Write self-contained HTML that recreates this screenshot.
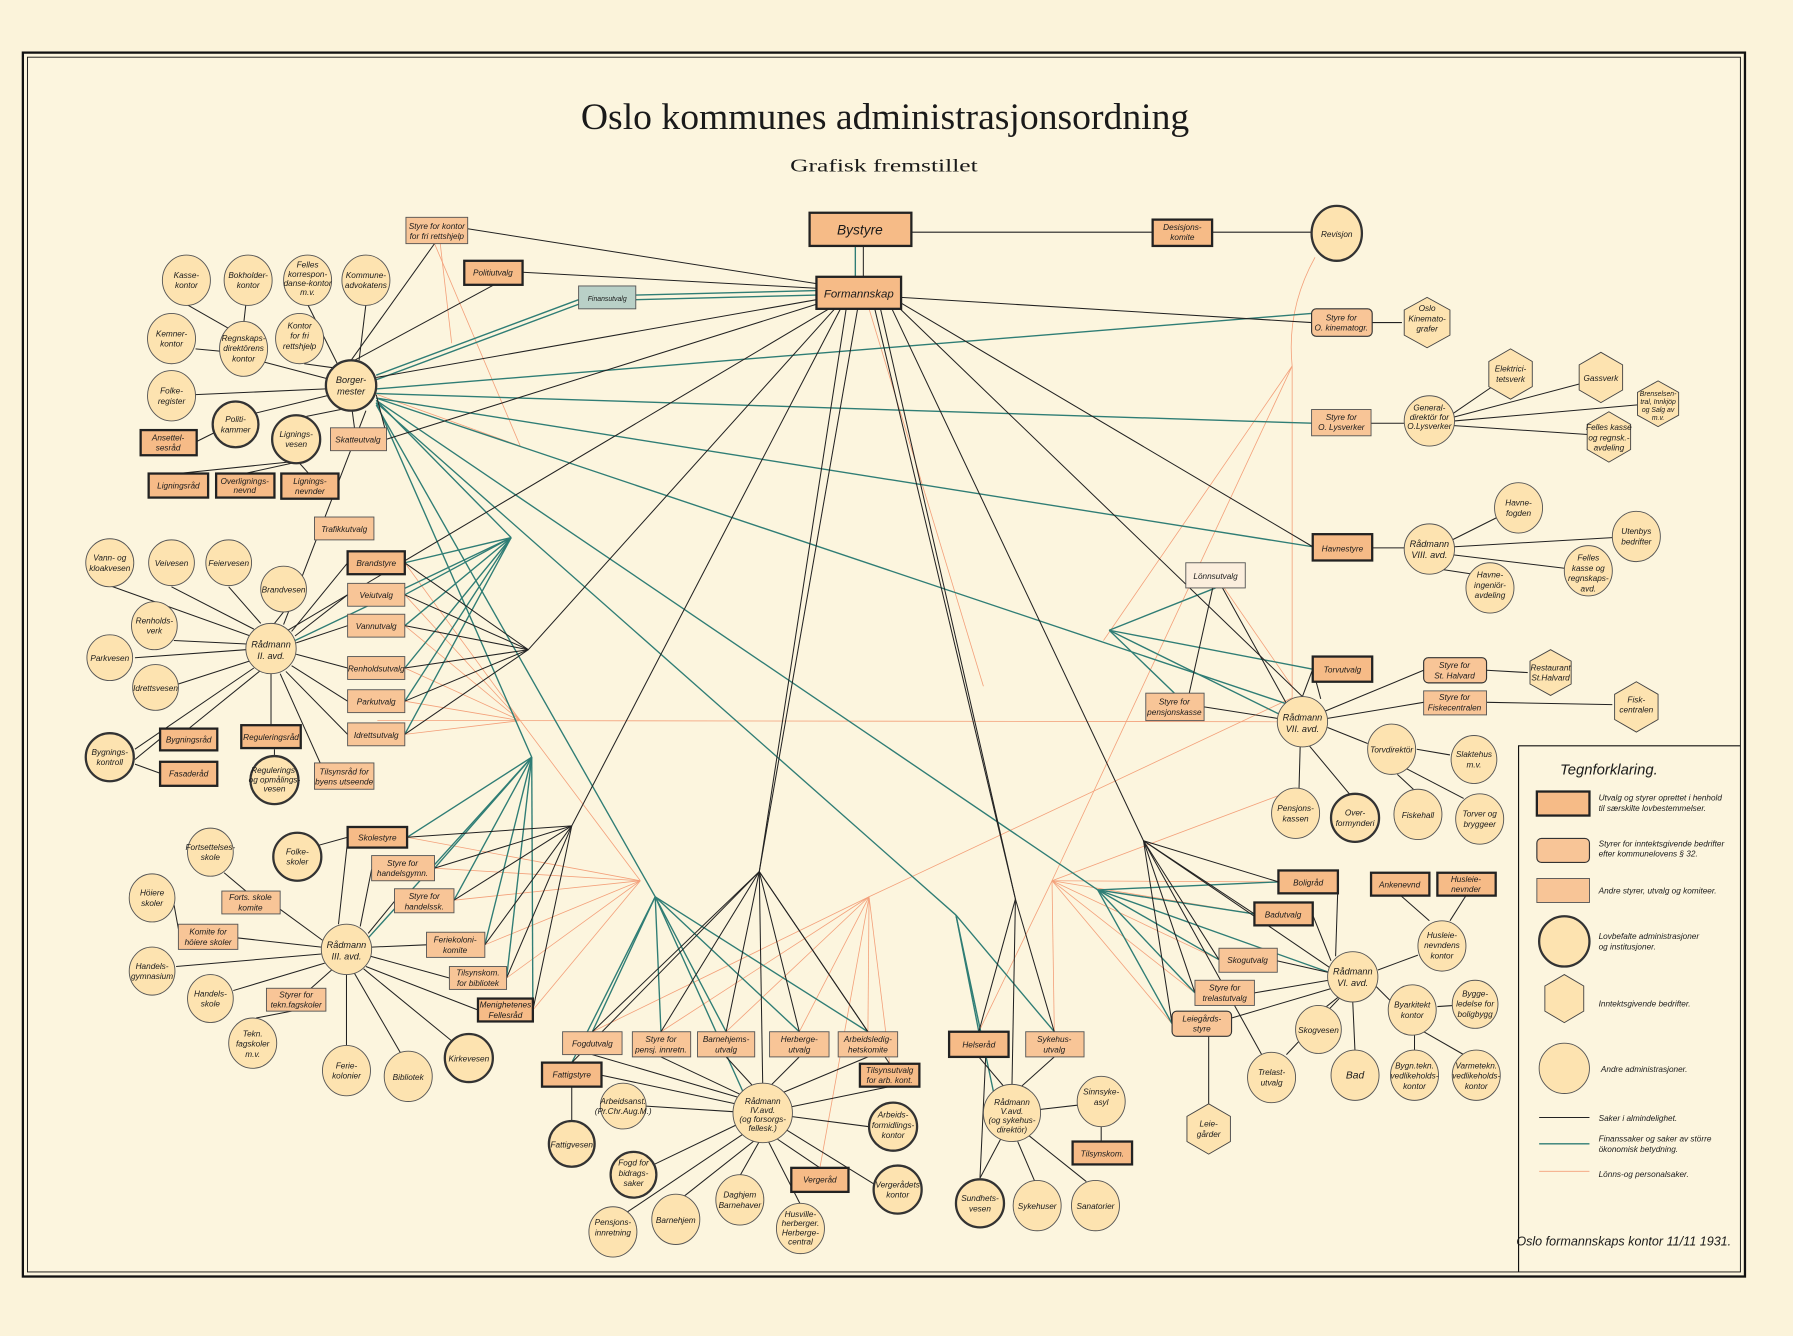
<!DOCTYPE html>
<html><head><meta charset="utf-8"><style>
html,body{margin:0;padding:0;background:#fbf3da;}
svg{display:block}
text{font-family:"Liberation Sans",sans-serif;font-style:italic;font-size:7.2px;fill:#1a1a1a;text-anchor:middle}
.L{fill:#f6bb87;stroke:#222;stroke-width:2}
.O{fill:#f8c597;stroke:#555;stroke-width:.8}
.I{fill:#f8c597;stroke:#333;stroke-width:1}
.c{fill:#fde3b0;stroke:#555;stroke-width:.8}
.ct{fill:#fde3b0;stroke:#333;stroke-width:2}
.h{fill:#fde3b0;stroke:#444;stroke-width:.8}
.k{stroke:#222;stroke-width:.9;fill:none}
.t{stroke:#2f7d75;stroke-width:1.2;fill:none}
.o{stroke:#f3a07a;stroke-width:.7;fill:none}
</style></head><body>
<svg width="1793" height="1336" viewBox="0 0 1568 1168" preserveAspectRatio="none" xmlns="http://www.w3.org/2000/svg">
<rect x="0" y="0" width="1568" height="1168" fill="#fbf3da"/>
<rect x="20" y="46" width="1506" height="1070" fill="#fcf5de" stroke="#111" stroke-width="2"/>
<rect x="24" y="50" width="1498" height="1062" fill="none" stroke="#111" stroke-width=".8"/>
<text x="774" y="113" style="font-family:'Liberation Serif',serif;font-style:normal;font-size:32px" textLength="532" lengthAdjust="spacingAndGlyphs">Oslo kommunes administrasjonsordning</text>
<text x="773" y="150" style="font-family:'Liberation Serif',serif;font-style:normal;font-size:16px" textLength="164" lengthAdjust="spacingAndGlyphs">Grafisk fremstillet</text>

<!-- legend -->
<path d="M1328 1112 V652 H1522" fill="none" stroke="#111" stroke-width="1"/>
<text x="1407" y="677" style="font-size:13px">Tegnforklaring.</text>
<rect x="1344" y="692" width="46" height="21" class="L"/>
<rect x="1344" y="733" width="46" height="21" rx="4" class="I"/>
<rect x="1344" y="768" width="46" height="21" class="O"/>
<circle cx="1368" cy="823" r="22" class="ct"/>
<polygon points="1368,852 1385,862 1385,884 1368,894 1351,884 1351,862" class="h"/>
<circle cx="1368" cy="934" r="22" class="c"/>
<line x1="1346" y1="977" x2="1390" y2="977" class="k"/>
<line x1="1346" y1="1000" x2="1390" y2="1000" class="t"/>
<line x1="1346" y1="1024" x2="1390" y2="1024" class="o"/>
<g style="text-anchor:start;font-size:7px">
<text x="1398" y="700" style="text-anchor:start">Utvalg og styrer oprettet i henhold</text>
<text x="1398" y="709" style="text-anchor:start">til særskilte lovbestemmelser.</text>
<text x="1398" y="740" style="text-anchor:start">Styrer for inntektsgivende bedrifter</text>
<text x="1398" y="749" style="text-anchor:start">efter kommunelovens § 32.</text>
<text x="1398" y="781" style="text-anchor:start">Andre styrer, utvalg og komiteer.</text>
<text x="1398" y="821" style="text-anchor:start">Lovbefalte administrasjoner</text>
<text x="1398" y="830" style="text-anchor:start">og institusjoner.</text>
<text x="1398" y="880" style="text-anchor:start">Inntektsgivende bedrifter.</text>
<text x="1400" y="937" style="text-anchor:start">Andre administrasjoner.</text>
<text x="1398" y="980" style="text-anchor:start">Saker i almindelighet.</text>
<text x="1398" y="998" style="text-anchor:start">Finanssaker og saker av större</text>
<text x="1398" y="1007" style="text-anchor:start">ökonomisk betydning.</text>
<text x="1398" y="1029" style="text-anchor:start">Lönns-og personalsaker.</text>
</g>
<text x="1420" y="1089" style="font-size:11px">Oslo formannskaps kontor 11/11 1931.</text>

<!-- ORANGE lines -->
<g class="o">
<path d="M380 213 L455 390"/><path d="M385 213 L395 300"/><path d="M330 345 L455 390"/>
<path d="M760 270 L860 600"/><path d="M1150 225 Q1125 270 1130 320 V640"/>
<path d="M1130 320 L965 560"/><path d="M1130 320 L920 770"/><path d="M1130 610 L760 784"/>
<path d="M455 630 L330 630"/><path d="M455 630 L1120 631"/>
<path d="M455 630 L354 492"/><path d="M455 630 L354 520"/><path d="M455 630 L354 547"/><path d="M455 630 L354 584"/><path d="M455 630 L354 613"/><path d="M455 630 L354 642"/>
<path d="M560 770 L380 759"/><path d="M560 770 L397 787"/><path d="M560 770 L424 826"/><path d="M560 770 L443 855"/><path d="M560 770 L466 883"/><path d="M560 770 L356 732"/><path d="M560 770 L455 630"/>
<path d="M760 784 L518 902"/><path d="M760 784 L578 902"/><path d="M760 784 L635 902"/><path d="M760 784 L699 902"/><path d="M760 784 L759 902"/><path d="M760 784 L778 930"/><path d="M760 784 L717 1021"/>
<path d="M920 770 L1118 771"/><path d="M920 770 L1097 799"/><path d="M920 770 L1066 839"/><path d="M920 770 L1045 868"/><path d="M920 770 L1025 895"/><path d="M920 770 L856 902"/><path d="M920 770 L922 902"/><path d="M920 770 L1133 690"/>
<path d="M1130 600 L1063 503"/>
</g>

<!-- TEAL lines -->
<g class="t">
<path d="M748 215 V242"/>
<path d="M556 258 L714 254"/><path d="M556 262 L714 258"/>
<path d="M329 328 L506 262"/><path d="M329 332 L506 266"/>
<path d="M329 340 L1147 274"/><path d="M329 344 L1147 370"/><path d="M329 348 L1148 478"/>
<path d="M329 350 L447 470"/><path d="M329 352 L465 662"/><path d="M329 354 L573 784"/><path d="M329 352 L836 800"/><path d="M329 350 L960 778"/><path d="M329 348 L1139 620"/>
<path d="M447 470 L354 492"/><path d="M447 470 L354 520"/><path d="M447 470 L354 547"/><path d="M447 470 L354 584"/><path d="M447 470 L354 613"/><path d="M447 470 L354 642"/><path d="M447 470 L258 560"/>
<path d="M465 662 L356 732"/><path d="M465 662 L380 759"/><path d="M465 662 L397 787"/><path d="M465 662 L424 826"/><path d="M465 662 L443 855"/><path d="M465 662 L466 883"/><path d="M465 662 L322 820"/>
<path d="M573 784 L518 902"/><path d="M573 784 L578 902"/><path d="M573 784 L635 902"/><path d="M573 784 L699 902"/><path d="M573 784 L759 902"/><path d="M573 784 L500 929"/><path d="M573 784 L650 955"/>
<path d="M836 800 L856 902"/><path d="M836 800 L922 902"/><path d="M836 800 L870 960"/>
<path d="M960 778 L1118 771"/><path d="M960 778 L1097 799"/><path d="M960 778 L1066 839"/><path d="M960 778 L1045 868"/><path d="M960 778 L1025 895"/><path d="M960 778 L1162 850"/>
<path d="M970 551 L1148 585"/><path d="M970 551 L1027 606"/><path d="M970 551 L1063 514"/><path d="M970 551 L1120 625"/>
</g>

<!-- BLACK lines -->
<g class="k">
<path d="M755 215 V242"/>
<path d="M797 203 H1008"/><path d="M1060 203 H1147"/>
<path d="M714 248 L409 200"/><path d="M714 252 L457 238"/><path d="M714 262 L329 330"/><path d="M714 266 L338 384"/>
<path d="M725 270 L250 552"/><path d="M730 270 L462 568"/><path d="M735 270 L500 722"/><path d="M740 270 L664 762"/><path d="M750 270 L664 762"/>
<path d="M765 270 L888 786"/><path d="M770 270 L888 786"/><path d="M780 270 L1000 735"/><path d="M785 268 L1139 609"/><path d="M788 265 L1148 478"/><path d="M788 260 L1147 282"/>
<path d="M1200 282 H1226"/><path d="M1199 370 H1228"/><path d="M1270 362 L1305 338"/><path d="M1270 365 L1384 335"/><path d="M1272 368 L1432 354"/><path d="M1270 372 L1390 380"/>
<path d="M1200 479 H1228"/><path d="M1270 472 L1310 452"/><path d="M1272 478 L1410 470"/><path d="M1270 485 L1370 497"/><path d="M1262 498 L1295 503"/>
<!-- borgermester -->
<path d="M307 315 L380 213"/><path d="M310 315 L432 249"/><path d="M229 316 L286 331"/><path d="M269 266 L295 318"/><path d="M320 266 L314 315"/><path d="M266 318 L295 322"/>
<path d="M163 266 L205 290"/><path d="M215 266 L213 284"/><path d="M171 305 L192 307"/><path d="M171 345 L285 340"/><path d="M220 362 L290 345"/><path d="M268 364 L298 358"/><path d="M310 374 L308 359"/>
<path d="M172 386 L188 378"/><path d="M252 404 L156 414"/><path d="M255 405 L214 414"/><path d="M262 405 L270 414"/><path d="M338 380 L329 345"/>
<path d="M320 359 L248 546"/>
<!-- radmann II -->
<path d="M96 512 L219 556"/><path d="M150 513 L222 550"/><path d="M200 513 L228 545"/><path d="M248 535 L240 545"/><path d="M152 560 L216 563"/><path d="M118 575 L215 568"/><path d="M156 598 L218 578"/><path d="M118 655 L222 584"/>
<path d="M304 492 L255 552"/><path d="M304 520 L258 556"/><path d="M304 547 L259 562"/><path d="M304 584 L259 572"/><path d="M304 613 L255 582"/><path d="M304 642 L250 587"/>
<path d="M165 637 L228 586"/><path d="M237 634 L237 589"/><path d="M240 660 L240 655"/><path d="M280 667 L245 589"/><path d="M118 664 L140 646"/><path d="M118 668 L140 676"/>
<path d="M462 568 L354 492"/><path d="M462 568 L354 520"/><path d="M462 568 L354 547"/><path d="M462 568 L354 584"/><path d="M462 568 L354 613"/><path d="M462 568 L354 642"/>
<!-- radmann III -->
<path d="M304 732 L275 740"/><path d="M304 735 L296 808"/><path d="M325 760 L315 810"/><path d="M345 788 L322 816"/><path d="M373 826 L325 828"/><path d="M393 855 L324 836"/><path d="M418 883 L320 845"/>
<path d="M500 722 L356 732"/><path d="M500 722 L380 759"/><path d="M500 722 L397 787"/><path d="M500 722 L424 826"/><path d="M500 722 L443 855"/><path d="M500 722 L466 883"/>
<path d="M196 763 L215 779"/><path d="M245 795 L282 822"/><path d="M152 790 L156 812"/><path d="M208 820 L281 828"/><path d="M154 845 L281 834"/><path d="M204 866 L284 842"/><path d="M272 864 L290 848"/><path d="M224 890 L255 884"/><path d="M303 914 L303 852"/><path d="M350 920 L310 851"/><path d="M395 910 L318 847"/>
<!-- radmann IV -->
<path d="M664 762 L518 902"/><path d="M664 762 L578 902"/><path d="M664 762 L635 902"/><path d="M664 762 L699 902"/><path d="M664 762 L759 902"/><path d="M664 762 L500 929"/><path d="M664 762 L778 930"/><path d="M664 762 L667 948"/>
<path d="M518 922 L648 960"/><path d="M578 924 L650 958"/><path d="M635 924 L658 949"/><path d="M699 924 L674 949"/><path d="M759 924 L685 955"/><path d="M526 940 L643 965"/><path d="M778 950 L690 968"/>
<path d="M500 950 L500 980"/><path d="M565 967 L643 972"/><path d="M572 1018 L647 982"/><path d="M548 1060 L652 990"/><path d="M598 1046 L660 997"/><path d="M647 1028 L664 998"/><path d="M700 1053 L672 998"/><path d="M760 985 L691 976"/><path d="M764 1035 L688 988"/><path d="M717 1021 L680 996"/>
<!-- radmann V -->
<path d="M888 786 L856 902"/><path d="M888 786 L922 902"/><path d="M888 786 L885 948"/>
<path d="M856 924 L878 950"/><path d="M922 924 L893 950"/><path d="M944 966 L909 970"/><path d="M963 998 L963 984"/><path d="M857 1030 L875 996"/><path d="M905 1033 L890 998"/><path d="M950 1033 L900 993"/><path d="M862 924 L857 1030"/>
<!-- radmann VI -->
<path d="M1000 735 L1118 771"/><path d="M1000 735 L1097 799"/><path d="M1000 735 L1066 839"/><path d="M1000 735 L1045 868"/><path d="M1000 735 L1025 895"/><path d="M1000 735 L1163 846"/><path d="M1000 735 L1105 925"/>
<path d="M1170 775 L1168 836"/><path d="M1148 800 L1164 840"/><path d="M1117 840 L1161 850"/><path d="M1097 868 L1162 857"/><path d="M1077 890 L1165 864"/>
<path d="M1225 783 L1250 805"/><path d="M1282 783 L1268 805"/><path d="M1240 835 L1205 848"/><path d="M1216 875 L1203 862"/><path d="M1160 880 L1170 872"/><path d="M1185 920 L1183 876"/><path d="M1125 922 L1172 872"/>
<path d="M1257 880 L1272 879"/><path d="M1237 905 L1237 920"/><path d="M1245 902 L1280 922"/><path d="M1057 906 L1057 965"/>
<!-- radmann VII -->
<path d="M1148 585 L1155 611"/><path d="M1053 618 L1117 628"/><path d="M1245 586 L1158 622"/><path d="M1245 614 L1161 628"/><path d="M1300 614 L1410 616"/><path d="M1300 586 L1336 588"/>
<path d="M1161 636 L1196 650"/><path d="M1136 690 L1137 653"/><path d="M1180 694 L1145 652"/><path d="M1239 655 L1268 660"/><path d="M1222 677 L1236 690"/><path d="M1230 672 L1280 698"/>
<path d="M1063 503 L1040 606"/><path d="M1063 503 L1125 615"/>
<path d="M1139 609 L1148 585"/>
</g>

<!-- NODES -->
<g>
<!-- top -->
<rect x="708" y="186" width="89" height="29" class="L"/><text x="752" y="205" style="font-size:12px">Bystyre</text>
<rect x="714" y="242" width="74" height="28" class="L"/><text x="751" y="260" style="font-size:10px">Formannskap</text>
<rect x="1008" y="192" width="52" height="23" class="L"/><text x="1034" y="201">Desisjons-</text><text x="1034" y="210">komite</text>
<ellipse cx="1169" cy="204" rx="22" ry="24" class="ct"/><text x="1169" y="207">Revisjon</text>
<rect x="355" y="190" width="54" height="23" class="O"/><text x="382" y="200">Styre for kontor</text><text x="382" y="209">for fri rettshjelp</text>
<rect x="406" y="228" width="51" height="21" class="L"/><text x="431" y="241">Politiutvalg</text>
<rect x="506" y="250" width="50" height="20" fill="#b9d0c7" stroke="#555" stroke-width=".8"/><text x="531" y="263" style="font-size:6px">Finansutvalg</text>
<rect x="1147" y="270" width="53" height="24" rx="4" class="I"/><text x="1173" y="280">Styre for</text><text x="1173" y="289">O. kinematogr.</text>
<polygon points="1248,260 1268,271 1268,293 1248,304 1228,293 1228,271" class="h"/><text x="1248" y="272">Oslo</text><text x="1248" y="281">Kinemato-</text><text x="1248" y="290">grafer</text>
<polygon points="1321,305 1340,316 1340,338 1321,349 1302,338 1302,316" class="h"/><text x="1321" y="325">Elektrici-</text><text x="1321" y="334">tetsverk</text>
<polygon points="1400,308 1419,319 1419,341 1400,352 1381,341 1381,319" class="h"/><text x="1400" y="333">Gassverk</text>
<polygon points="1450,333 1468,343 1468,363 1450,373 1432,363 1432,343" class="h"/><text x="1450" y="346" style="font-size:6px">Brenselsen-</text><text x="1450" y="353" style="font-size:6px">tral, Innkjöp</text><text x="1450" y="360" style="font-size:6px">og Salg av</text><text x="1450" y="367" style="font-size:6px">m.v.</text>
<polygon points="1407,360 1426,371 1426,393 1407,404 1388,393 1388,371" class="h"/><text x="1407" y="376">Felles kasse</text><text x="1407" y="385">og regnsk.-</text><text x="1407" y="394">avdeling</text>
<rect x="1147" y="358" width="52" height="23" class="O"/><text x="1173" y="367">Styre for</text><text x="1173" y="376">O. Lysverker</text>
<circle cx="1250" cy="368" r="22" class="c"/><text x="1250" y="359">General-</text><text x="1250" y="367">direktör for</text><text x="1250" y="375">O.Lysverker</text>

<!-- Borgermester cluster -->
<circle cx="307" cy="337" r="22" class="ct"/><text x="307" y="335" style="font-size:8px">Borger-</text><text x="307" y="345" style="font-size:8px">mester</text>
<ellipse cx="163" cy="245" rx="21" ry="22" class="c"/><text x="163" y="243">Kasse-</text><text x="163" y="252">kontor</text>
<ellipse cx="217" cy="245" rx="21" ry="22" class="c"/><text x="217" y="243">Bokholder-</text><text x="217" y="252">kontor</text>
<ellipse cx="269" cy="245" rx="21" ry="22" class="c"/><text x="269" y="234">Felles</text><text x="269" y="242">korrespon-</text><text x="269" y="250">danse-kontor</text><text x="269" y="258">m.v.</text>
<ellipse cx="320" cy="245" rx="21" ry="22" class="c"/><text x="320" y="243">Kommune-</text><text x="320" y="252">advokatens</text>
<ellipse cx="150" cy="296" rx="21" ry="22" class="c"/><text x="150" y="294">Kemner-</text><text x="150" y="303">kontor</text>
<ellipse cx="213" cy="305" rx="21" ry="24" class="c"/><text x="213" y="298">Regnskaps-</text><text x="213" y="307">direktörens</text><text x="213" y="316">kontor</text>
<ellipse cx="262" cy="296" rx="21" ry="22" class="c"/><text x="262" y="287">Kontor</text><text x="262" y="296">for fri</text><text x="262" y="305">rettshjelp</text>
<ellipse cx="150" cy="346" rx="21" ry="22" class="c"/><text x="150" y="344">Folke-</text><text x="150" y="353">register</text>
<circle cx="206" cy="371" r="20" class="ct"/><text x="206" y="369">Politi-</text><text x="206" y="378">kammer</text>
<circle cx="259" cy="384" r="21" class="ct"/><text x="259" y="382">Lignings-</text><text x="259" y="391">vesen</text>
<rect x="289" y="374" width="49" height="20" class="O"/><text x="313" y="387">Skatteutvalg</text>
<rect x="123" y="376" width="49" height="22" class="L"/><text x="147" y="385">Ansettel-</text><text x="147" y="394">sesråd</text>
<rect x="130" y="414" width="52" height="21" class="L"/><text x="156" y="427">Ligningsråd</text>
<rect x="189" y="414" width="51" height="21" class="L"/><text x="214" y="423">Overlignings-</text><text x="214" y="431">nevnd</text>
<rect x="246" y="414" width="50" height="22" class="L"/><text x="271" y="423">Lignings-</text><text x="271" y="432">nevnder</text>
<rect x="275" y="452" width="52" height="20" class="O"/><text x="301" y="465">Trafikkutvalg</text>

<!-- Radmann II -->
<circle cx="237" cy="567" r="22" class="c"/><text x="237" y="566" style="font-size:8px">Rådmann</text><text x="237" y="576" style="font-size:8px">II. avd.</text>
<ellipse cx="96" cy="492" rx="21" ry="21" class="c"/><text x="96" y="490">Vann- og</text><text x="96" y="499">kloakvesen</text>
<ellipse cx="150" cy="492" rx="20" ry="20" class="c"/><text x="150" y="495">Veivesen</text>
<ellipse cx="200" cy="492" rx="20" ry="20" class="c"/><text x="200" y="495">Feiervesen</text>
<ellipse cx="248" cy="515" rx="20" ry="20" class="c"/><text x="248" y="518">Brandvesen</text>
<ellipse cx="135" cy="547" rx="20" ry="21" class="c"/><text x="135" y="545">Renholds-</text><text x="135" y="554">verk</text>
<ellipse cx="96" cy="575" rx="20" ry="20" class="c"/><text x="96" y="578">Parkvesen</text>
<ellipse cx="136" cy="601" rx="20" ry="20" class="c"/><text x="136" y="604">Idrettsvesen</text>
<circle cx="96" cy="662" r="21" class="ct"/><text x="96" y="660">Bygnings-</text><text x="96" y="669">kontroll</text>
<rect x="140" y="637" width="50" height="19" class="L"/><text x="165" y="649">Bygningsråd</text>
<rect x="140" y="666" width="50" height="21" class="L"/><text x="165" y="679">Fasaderåd</text>
<rect x="211" y="634" width="52" height="20" class="L"/><text x="237" y="647">Reguleringsråd</text>
<circle cx="240" cy="682" r="21" class="ct"/><text x="240" y="676">Regulerings-</text><text x="240" y="684">og opmålings-</text><text x="240" y="692">vesen</text>
<rect x="275" y="667" width="52" height="23" class="O"/><text x="301" y="677">Tilsynsråd for</text><text x="301" y="686">byens utseende</text>
<rect x="304" y="482" width="50" height="20" class="L"/><text x="329" y="495">Brandstyre</text>
<rect x="304" y="510" width="50" height="20" class="O"/><text x="329" y="523">Veiutvalg</text>
<rect x="304" y="537" width="50" height="20" class="O"/><text x="329" y="550">Vannutvalg</text>
<rect x="304" y="574" width="50" height="20" class="O"/><text x="329" y="587">Renholdsutvalg</text>
<rect x="304" y="603" width="50" height="20" class="O"/><text x="329" y="616">Parkutvalg</text>
<rect x="304" y="632" width="50" height="20" class="O"/><text x="329" y="645">Idrettsutvalg</text>

<!-- Radmann III -->
<circle cx="303" cy="830" r="22" class="c"/><text x="303" y="829" style="font-size:8px">Rådmann</text><text x="303" y="839" style="font-size:8px">III. avd.</text>
<rect x="304" y="723" width="52" height="18" class="L"/><text x="330" y="735">Skolestyre</text>
<rect x="325" y="748" width="55" height="22" class="O"/><text x="352" y="757">Styre for</text><text x="352" y="766">handelsgymn.</text>
<rect x="345" y="777" width="52" height="21" class="O"/><text x="371" y="786">Styre for</text><text x="371" y="795">handelssk.</text>
<rect x="373" y="815" width="51" height="22" class="O"/><text x="398" y="824">Feriekoloni-</text><text x="398" y="833">komite</text>
<rect x="393" y="845" width="50" height="20" class="O"/><text x="418" y="853">Tilsynskom.</text><text x="418" y="862">for bibliotek</text>
<rect x="418" y="873" width="48" height="20" class="L"/><text x="442" y="881">Menighetenes</text><text x="442" y="890">Fellesråd</text>
<circle cx="260" cy="749" r="21" class="ct"/><text x="260" y="747">Folke-</text><text x="260" y="756">skoler</text>
<ellipse cx="184" cy="745" rx="20" ry="21" class="c"/><text x="184" y="743">Fortsettelses-</text><text x="184" y="752">skole</text>
<rect x="194" y="779" width="51" height="20" class="O"/><text x="219" y="787">Forts. skole</text><text x="219" y="796">komite</text>
<ellipse cx="133" cy="785" rx="20" ry="21" class="c"/><text x="133" y="783">Höiere</text><text x="133" y="792">skoler</text>
<rect x="156" y="808" width="52" height="22" class="O"/><text x="182" y="817">Komite for</text><text x="182" y="826">höiere skoler</text>
<ellipse cx="133" cy="849" rx="20" ry="21" class="c"/><text x="133" y="847">Handels-</text><text x="133" y="856">gymnasium</text>
<ellipse cx="184" cy="873" rx="20" ry="21" class="c"/><text x="184" y="871">Handels-</text><text x="184" y="880">skole</text>
<rect x="233" y="864" width="52" height="20" class="O"/><text x="259" y="872">Styrer for</text><text x="259" y="881">tekn.fagskoler</text>
<ellipse cx="221" cy="912" rx="21" ry="22" class="c"/><text x="221" y="906">Tekn.</text><text x="221" y="915">fagskoler</text><text x="221" y="924">m.v.</text>
<ellipse cx="303" cy="936" rx="21" ry="22" class="c"/><text x="303" y="934">Ferie-</text><text x="303" y="943">kolonier</text>
<ellipse cx="357" cy="941" rx="21" ry="22" class="c"/><text x="357" y="944">Bibliotek</text>
<circle cx="410" cy="925" r="21" class="ct"/><text x="410" y="928">Kirkevesen</text>

<!-- Radmann IV -->
<circle cx="667" cy="973" r="26" class="c"/><text x="667" y="965">Rådmann</text><text x="667" y="973">IV.avd.</text><text x="667" y="981">(og forsorgs-</text><text x="667" y="989">fellesk.)</text>
<rect x="492" y="902" width="52" height="20" class="O"/><text x="518" y="915">Fogdutvalg</text>
<rect x="553" y="902" width="51" height="22" class="O"/><text x="578" y="911">Styre for</text><text x="578" y="920">pensj. innretn.</text>
<rect x="610" y="902" width="50" height="22" class="O"/><text x="635" y="911">Barnehjems-</text><text x="635" y="920">utvalg</text>
<rect x="673" y="902" width="52" height="22" class="O"/><text x="699" y="911">Herberge-</text><text x="699" y="920">utvalg</text>
<rect x="733" y="902" width="52" height="22" class="O"/><text x="759" y="911">Arbeidsledig-</text><text x="759" y="920">hetskomite</text>
<rect x="474" y="929" width="52" height="21" class="L"/><text x="500" y="942">Fattigstyre</text>
<rect x="752" y="930" width="52" height="20" class="L"/><text x="778" y="938">Tilsynsutvalg</text><text x="778" y="947">for arb. kont.</text>
<rect x="692" y="1021" width="50" height="21" class="L"/><text x="717" y="1034">Vergeråd</text>
<circle cx="500" cy="1000" r="20" class="ct"/><text x="500" y="1003">Fattigvesen</text>
<ellipse cx="545" cy="967" rx="20" ry="20" class="c"/><text x="545" y="965">Arbeidsanst.</text><text x="545" y="974">(Pr.Chr.Aug.M.)</text>
<circle cx="554" cy="1027" r="20" class="ct"/><text x="554" y="1019">Fogd for</text><text x="554" y="1028">bidrags-</text><text x="554" y="1037">saker</text>
<ellipse cx="536" cy="1077" rx="21" ry="22" class="c"/><text x="536" y="1071">Pensjons-</text><text x="536" y="1080">innretning</text>
<ellipse cx="591" cy="1066" rx="21" ry="22" class="c"/><text x="591" y="1069">Barnehjem</text>
<ellipse cx="647" cy="1049" rx="21" ry="22" class="c"/><text x="647" y="1047">Daghjem</text><text x="647" y="1056">Barnehaver</text>
<ellipse cx="700" cy="1074" rx="21" ry="22" class="c"/><text x="700" y="1064">Husville-</text><text x="700" y="1072">herberger.</text><text x="700" y="1080">Herberge-</text><text x="700" y="1088">central</text>
<circle cx="781" cy="985" r="21" class="ct"/><text x="781" y="977">Arbeids-</text><text x="781" y="986">formidlings-</text><text x="781" y="995">kontor</text>
<circle cx="785" cy="1040" r="21" class="ct"/><text x="785" y="1038">Vergerådets</text><text x="785" y="1047">kontor</text>

<!-- Radmann V -->
<circle cx="885" cy="973" r="25" class="c"/><text x="885" y="966">Rådmann</text><text x="885" y="974">V.avd.</text><text x="885" y="982">(og sykehus-</text><text x="885" y="990">direktör)</text>
<rect x="830" y="902" width="52" height="22" class="L"/><text x="856" y="916">Helseråd</text>
<rect x="897" y="902" width="51" height="22" class="O"/><text x="922" y="911">Sykehus-</text><text x="922" y="920">utvalg</text>
<rect x="938" y="998" width="52" height="20" class="L"/><text x="964" y="1011">Tilsynskom.</text>
<ellipse cx="963" cy="963" rx="21" ry="22" class="c"/><text x="963" y="957">Sinnsyke-</text><text x="963" y="966">asyl</text>
<circle cx="857" cy="1052" r="21" class="ct"/><text x="857" y="1050">Sundhets-</text><text x="857" y="1059">vesen</text>
<ellipse cx="907" cy="1054" rx="21" ry="22" class="c"/><text x="907" y="1057">Sykehuser</text>
<ellipse cx="958" cy="1054" rx="21" ry="22" class="c"/><text x="958" y="1057">Sanatorier</text>

<!-- Radmann VI -->
<circle cx="1183" cy="854" r="22" class="c"/><text x="1183" y="852" style="font-size:8px">Rådmann</text><text x="1183" y="862" style="font-size:8px">VI. avd.</text>
<rect x="1118" y="761" width="52" height="20" class="L"/><text x="1144" y="774">Boligråd</text>
<rect x="1097" y="789" width="51" height="20" class="L"/><text x="1122" y="802">Badutvalg</text>
<rect x="1066" y="829" width="51" height="21" class="O"/><text x="1091" y="842">Skogutvalg</text>
<rect x="1045" y="857" width="52" height="22" class="O"/><text x="1071" y="866">Styre for</text><text x="1071" y="875">trelastutvalg</text>
<rect x="1025" y="884" width="52" height="22" rx="4" class="I"/><text x="1051" y="893">Leiegårds-</text><text x="1051" y="902">styre</text>
<rect x="1199" y="763" width="51" height="20" class="L"/><text x="1224" y="776">Ankenevnd</text>
<rect x="1257" y="763" width="51" height="20" class="L"/><text x="1282" y="771">Husleie-</text><text x="1282" y="780">nevnder</text>
<ellipse cx="1261" cy="827" rx="21" ry="22" class="c"/><text x="1261" y="820">Husleie-</text><text x="1261" y="829">nevndens</text><text x="1261" y="838">kontor</text>
<ellipse cx="1235" cy="883" rx="21" ry="22" class="c"/><text x="1235" y="881">Byarkitekt</text><text x="1235" y="890">kontor</text>
<ellipse cx="1290" cy="878" rx="20" ry="21" class="c"/><text x="1290" y="871">Bygge-</text><text x="1290" y="880">ledelse for</text><text x="1290" y="889">boligbygg</text>
<ellipse cx="1153" cy="900" rx="20" ry="21" class="c"/><text x="1153" y="903">Skogvesen</text>
<ellipse cx="1112" cy="942" rx="21" ry="22" class="c"/><text x="1112" y="940">Trelast-</text><text x="1112" y="949">utvalg</text>
<ellipse cx="1185" cy="940" rx="21" ry="22" class="c"/><text x="1185" y="943" style="font-size:9px">Bad</text>
<ellipse cx="1237" cy="940" rx="21" ry="22" class="c"/><text x="1237" y="934">Bygn.tekn.</text><text x="1237" y="943">vedlikeholds-</text><text x="1237" y="952">kontor</text>
<ellipse cx="1291" cy="940" rx="21" ry="22" class="c"/><text x="1291" y="934">Varmetekn.</text><text x="1291" y="943">vedlikeholds-</text><text x="1291" y="952">kontor</text>
<polygon points="1057,965 1076,976 1076,998 1057,1009 1038,998 1038,976" class="h"/><text x="1057" y="985">Leie-</text><text x="1057" y="994">gårder</text>

<!-- Radmann VII -->
<circle cx="1139" cy="631" r="22" class="c"/><text x="1139" y="630" style="font-size:8px">Rådmann</text><text x="1139" y="640" style="font-size:8px">VII. avd.</text>
<rect x="1148" y="574" width="52" height="22" class="L"/><text x="1174" y="588">Torvutvalg</text>
<rect x="1002" y="606" width="51" height="24" class="O"/><text x="1027" y="616">Styre for</text><text x="1027" y="625">pensjonskasse</text>
<rect x="1037" y="492" width="52" height="22" fill="#fbeedd" stroke="#555" stroke-width=".8"/><text x="1063" y="506">Lönnsutvalg</text>
<rect x="1245" y="575" width="55" height="22" rx="4" class="I"/><text x="1272" y="584">Styre for</text><text x="1272" y="593">St. Halvard</text>
<rect x="1245" y="604" width="55" height="21" class="O"/><text x="1272" y="612">Styre for</text><text x="1272" y="621">Fiskecentralen</text>
<polygon points="1356,568 1374,578 1374,598 1356,608 1338,598 1338,578" class="h"/><text x="1356" y="586">Restaurant</text><text x="1356" y="595">St.Halvard</text>
<polygon points="1431,596 1450,607 1450,629 1431,640 1412,629 1412,607" class="h"/><text x="1431" y="614">Fisk-</text><text x="1431" y="623">centralen</text>
<ellipse cx="1217" cy="655" rx="21" ry="22" class="c"/><text x="1217" y="658">Torvdirektör</text>
<ellipse cx="1289" cy="664" rx="20" ry="21" class="c"/><text x="1289" y="662">Slaktehus</text><text x="1289" y="671">m.v.</text>
<ellipse cx="1240" cy="712" rx="21" ry="22" class="c"/><text x="1240" y="715">Fiskehall</text>
<ellipse cx="1294" cy="716" rx="21" ry="22" class="c"/><text x="1294" y="714">Torver og</text><text x="1294" y="723">bryggeer</text>
<ellipse cx="1133" cy="711" rx="21" ry="22" class="c"/><text x="1133" y="709">Pensjons-</text><text x="1133" y="718">kassen</text>
<circle cx="1185" cy="715" r="21" class="ct"/><text x="1185" y="713">Over-</text><text x="1185" y="722">formynderi</text>

<!-- Radmann VIII -->
<circle cx="1250" cy="480" r="22" class="c"/><text x="1250" y="478" style="font-size:8px">Rådmann</text><text x="1250" y="488" style="font-size:8px">VIII. avd.</text>
<rect x="1148" y="467" width="52" height="23" class="L"/><text x="1174" y="482">Havnestyre</text>
<ellipse cx="1328" cy="444" rx="21" ry="22" class="c"/><text x="1328" y="442">Havne-</text><text x="1328" y="451">fogden</text>
<ellipse cx="1431" cy="469" rx="21" ry="22" class="c"/><text x="1431" y="467">Utenbys</text><text x="1431" y="476">bedrifter</text>
<ellipse cx="1389" cy="499" rx="21" ry="22" class="c"/><text x="1389" y="490">Felles</text><text x="1389" y="499">kasse og</text><text x="1389" y="508">regnskaps-</text><text x="1389" y="517">avd.</text>
<ellipse cx="1303" cy="514" rx="21" ry="22" class="c"/><text x="1303" y="505">Havne-</text><text x="1303" y="514">ingeniör-</text><text x="1303" y="523">avdeling</text>
</g>
</svg>
</body></html>
